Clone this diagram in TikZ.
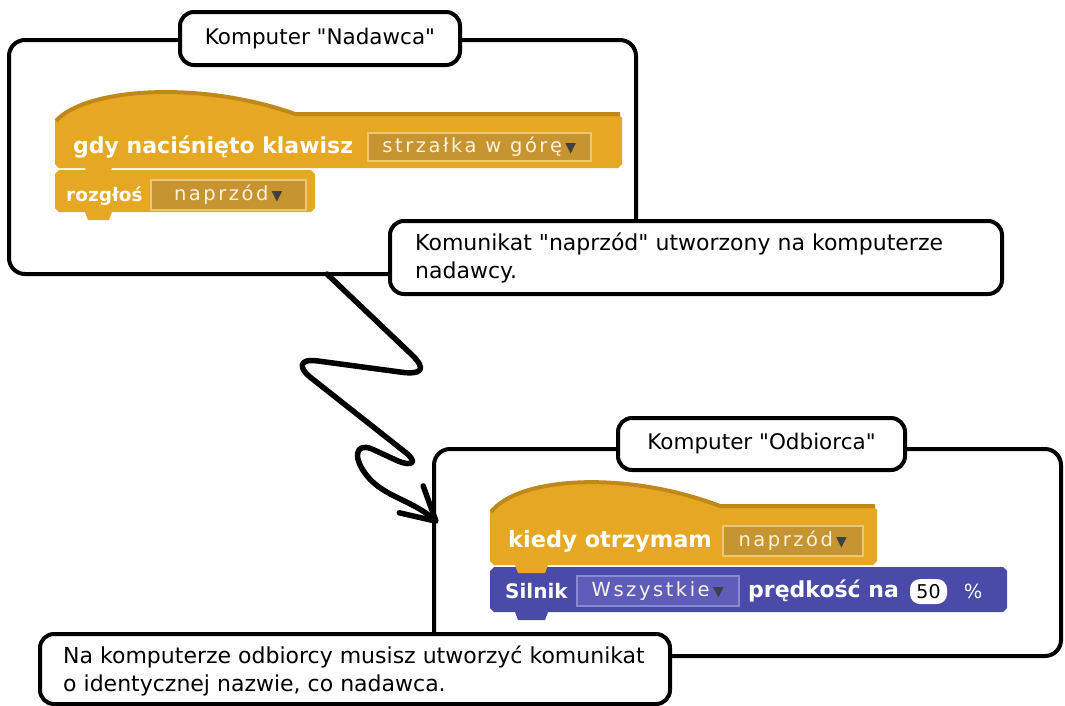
\documentclass[tikz,border=0pt]{standalone}
\usepackage{fontspec}
\setmainfont{DejaVu Sans}
\newfontfamily\labelfont{DejaVu Sans}
\newfontfamily\ddfont[LetterSpace=13]{DejaVu Sans}
\usetikzlibrary{arrows.meta,positioning}

\definecolor{hatgold}{RGB}{230,168,34}
\definecolor{hatedge}{RGB}{192,136,24}
\definecolor{ddgold}{RGB}{198,148,48}
\definecolor{ddgoldline}{RGB}{236,200,118}
\definecolor{motor}{RGB}{74,74,168}
\definecolor{ddmotor}{RGB}{94,94,186}
\definecolor{ddmotorline}{RGB}{138,138,212}
\definecolor{ddtext}{RGB}{250,242,220}

\tikzset{
  frame/.style={draw=black,line width=4pt,rounded corners=16pt},
  titlebox/.style={draw=black,fill=white,line width=4pt,rounded corners=14pt,
    font=\labelfont\fontsize{21.5}{26}\selectfont,inner sep=0pt},
  notebox/.style={draw=black,fill=white,line width=4pt,rounded corners=14pt,
    anchor=north west,inner sep=0pt},
  notetext/.style={font=\labelfont\fontsize{22}{27.5}\selectfont,align=left,
    anchor=west,inner sep=0pt},
  blocktext/.style={text=white,font=\labelfont\fontsize{22}{22}\selectfont\bfseries,
    anchor=west,inner sep=0pt},
  ddbox/.style={line width=1.5pt,inner sep=0pt,anchor=west,text=ddtext,
    font=\ddfont\fontsize{19.5}{19.5}\selectfont},
  zigzag/.style={line width=5.5pt,line cap=round,line join=round},
}
\newcommand{\ddarrow}{\,{\fontsize{14}{14}\selectfont\textcolor{black!75}{▼}}}

\begin{document}
\begin{tikzpicture}[x=1pt,y=-1pt]
\useasboundingbox (0,0) rectangle (1065,705);

% ---- Frames ----
\draw[frame] (9,40) rectangle (636,274);
\draw[frame] (434,449) rectangle (1061,656);

% ---- Sender script ----
% hat block
\fill[hatgold] (55,121) .. controls (85,88) and (200,80) .. (295,114) -- (618,114)
  -- (622,118) -- (622,164) -- (618,168) -- (112,168) -- (109,174) -- (88,174)
  -- (85,168) -- (59,168) -- (55,164) -- cycle;
\draw[hatedge,line width=4pt] (56,121) .. controls (85,88) and (200,80) .. (295,114) -- (620,114);
\node[blocktext] (keytext) at (73,147) {gdy naciśnięto klawisz};
\node[ddbox,fill=ddgold,draw=ddgoldline,minimum width=223pt,minimum height=28pt]
  (keymenu) at (367,147) {strzałka w górę\ddarrow};
% broadcast block
\fill[hatgold] (59,170) -- (311,170) -- (315,174) -- (315,208) -- (311,212)
  -- (112,212) -- (109,220) -- (88,220) -- (85,212) -- (59,212) -- (55,208)
  -- (55,174) -- cycle;
\fill[hatgold] (88,166) rectangle (109,175);
\node[blocktext,font=\labelfont\fontsize{18.5}{18.5}\selectfont\bfseries] (sendtext) at (66,196) {rozgłoś};
\node[ddbox,fill=ddgold,draw=ddgoldline,minimum width=155pt,minimum height=30pt]
  (sendmenu) at (150,195) {naprzód\ddarrow};

% ---- Receiver script ----
% motor block
\fill[motor] (494,567) -- (1003,567) -- (1007,571) -- (1007,608) -- (1003,612)
  -- (548,612) -- (545,620) -- (518,620) -- (515,612) -- (494,612) -- (490,608)
  -- (490,571) -- cycle;
% hat block
\fill[hatgold] (490,512) .. controls (518,477) and (625,470) .. (720,506) -- (873,506)
  -- (877,510) -- (877,561) -- (873,565) -- (548,565) -- (545,573) -- (518,573)
  -- (515,565) -- (494,565) -- (490,561) -- cycle;
\draw[hatedge,line width=4pt] (491,512) .. controls (518,477) and (625,470) .. (720,506) -- (875,506);
\node[blocktext,font=\labelfont\fontsize{22.5}{22.5}\selectfont\bfseries] (gettext) at (508,541) {kiedy otrzymam};
\node[ddbox,fill=ddgold,draw=ddgoldline,minimum width=140pt,minimum height=30pt]
  (getmenu) at (722,541) {naprzód\ddarrow};
\node[blocktext,font=\labelfont\fontsize{20}{20}\selectfont\bfseries] (motortext) at (505,591) {Silnik};
\node[ddbox,fill=ddmotor,draw=ddmotorline,minimum width=162pt,minimum height=30pt]
  (motormenu) at (576,591) {Wszystkie\ddarrow};
\node[blocktext,font=\labelfont\fontsize{22}{22}\selectfont\bfseries] (speedtext) at (748,591) {prędkość na};
\node[fill=white,rounded corners=10pt,minimum width=37pt,minimum height=25pt,inner sep=0pt,
  font=\labelfont\fontsize{19}{19}\selectfont] (speedval) at (928.5,591.5) {50};
\node[ddbox,text=white] (percent) at (963,591) {\%};

% ---- Titles and notes ----
\node[titlebox,minimum width=280pt,minimum height=53pt] (sender) at (320,38.5) {Komputer "Nadawca"};
\node[titlebox,minimum width=287pt,minimum height=52pt] (receiver) at (761.5,444) {Komputer "Odbiorca"};
\node[notebox,minimum width=612pt,minimum height=73pt] (sendnote) at (388,219) {};
\node[notetext] (sendnotetext) at (415,258)
  {Komunikat "naprzód" utworzony na komputerze\\nadawcy.};
\node[notebox,minimum width=630pt,minimum height=70pt] (getnote) at (38,632) {};
\node[notetext] (getnotetext) at (63,671)
  {Na komputerze odbiorcy musisz utworzyć komunikat\\o identycznej nazwie, co nadawca.};

% ---- Zigzag link ----
\coordinate (zstart) at (327,274);
\coordinate (zend) at (438,523);
\draw[zigzag,-{Straight Barb[length=33pt,width=36pt,round]}] (zstart) -- (411,354)
  .. controls (428,370) and (421,375) .. (400,372) -- (318,361)
  .. controls (297,358) and (300,369) .. (310,377) -- (405,452)
  .. controls (418,462) and (413,467) .. (398,461) -- (372,449)
  .. controls (355,442) and (352,458) .. (368,477)
  .. controls (385,497) and (412,500) .. (zend);

\end{tikzpicture}
\end{document}
